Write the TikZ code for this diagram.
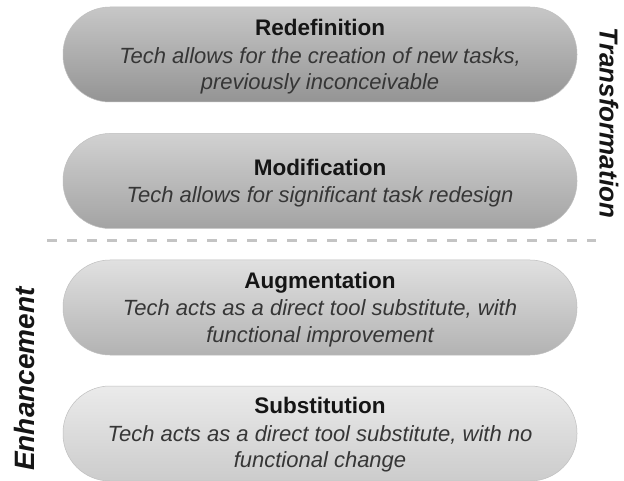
\documentclass[tikz,border=0pt]{standalone}
\usepackage{fontspec}
\setmainfont{Liberation Sans}
\usetikzlibrary{shadings}
\definecolor{titlecol}{HTML}{151515}
\definecolor{desccol}{HTML}{363636}
\definecolor{dashcol}{HTML}{C4C4C4}
\begin{document}
\begin{tikzpicture}[x=1pt,y=-1pt,
  pill/.style={rounded corners=47pt, minimum width=514pt, minimum height=95pt,
    inner sep=0pt, draw=black!25, line width=0.5pt},
  ttl/.style={anchor=base, text=titlecol, font=\fontsize{22.5}{26}\selectfont\bfseries},
  dsc/.style={anchor=base, text=desccol, font=\fontsize{22}{26}\selectfont\itshape},
  side/.style={text=titlecol, font=\fontsize{26}{30}\selectfont\bfseries\itshape}]
\useasboundingbox (0,0) rectangle (624,481);
\fill[white] (0,0) rectangle (624,481);
% pills
\node[pill, top color=black!22, bottom color=black!42] (p1) at (320,54.5) {};
\node[pill, top color=black!18, bottom color=black!36] (p2) at (320,181) {};
\node[pill, top color=black!12, bottom color=black!30] (p3) at (320,307.5) {};
\node[pill, top color=black!8, bottom color=black!20] (p4) at (320,433.5) {};
% texts
\node[ttl] (t1) at (320,36) {Redefinition};
\node[dsc] (d1a) at (320,64) {Tech allows for the creation of new tasks,};
\node[dsc] (d1b) at (320,90) {previously inconceivable};
\node[ttl] (t2) at (320,176) {Modification};
\node[dsc] (d2a) at (320,203) {Tech allows for significant task redesign};
\node[ttl] (t3) at (320,288) {Augmentation};
\node[dsc] (d3a) at (320,316) {Tech acts as a direct tool substitute, with};
\node[dsc] (d3b) at (320,342) {functional improvement};
\node[ttl] (t4) at (320,413) {Substitution};
\node[dsc] (d4a) at (320,441) {Tech acts as a direct tool substitute, with no};
\node[dsc] (d4b) at (320,467) {functional change};
% divider
\coordinate (dl) at (47,241);
\coordinate (dr) at (596,241);
\draw[dashcol, line width=3pt, dash pattern=on 10pt off 10pt] (dl) -- (dr);
% side labels
\node[side, rotate=-90] (tr) at (609,123) {Transformation};
\node[side, rotate=90, font=\fontsize{28}{32}\selectfont\bfseries\itshape] (en) at (24,379) {Enhancement};
\end{tikzpicture}
\end{document}
